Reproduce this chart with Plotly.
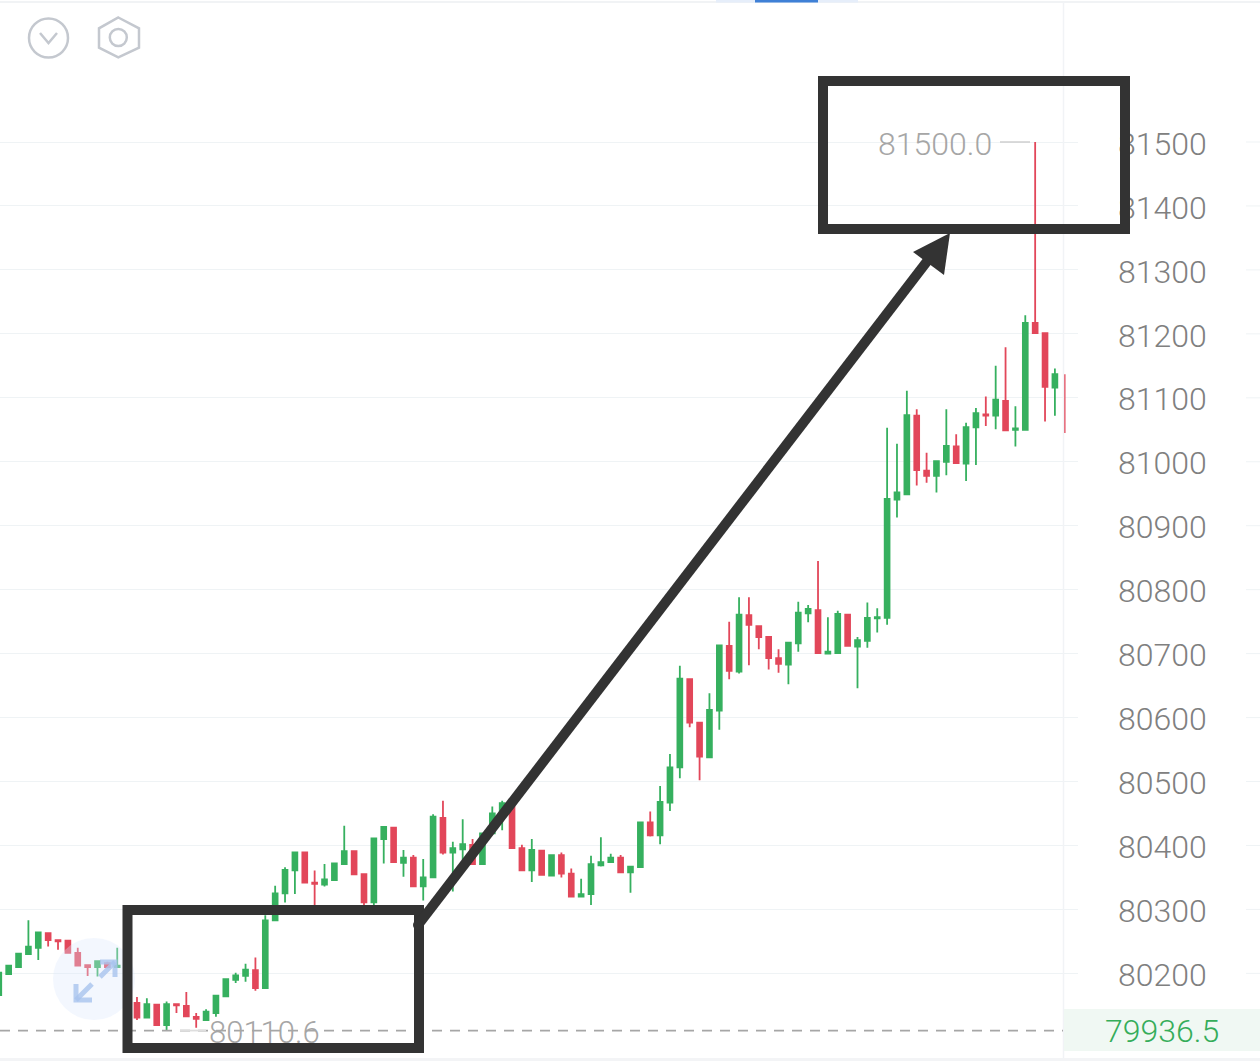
import plotly.graph_objects as go

opens = [80166,80199,80210,80230,80240,80263,80252,80251,80232,80213,80210,80216,80210,80205,80154,80131,80151,80119,80152,80149,80132,80127,80138,80164,80190,80196,80205,80177,80283,80325,80361,80389,80342,80339,80346,80371,80391,80355,80311,80410,80428,80373,80381,80336,80350,80443,80389,80394,80401,80371,80419,80448,80461,80396,80361,80392,80353,80385,80356,80320,80324,80369,80374,80381,80358,80366,80436,80416,80467,80522,80660,80592,80538,80611,80712,80672,80760,80743,80726,80693,80683,80716,80763,80768,80700,80701,80761,80711,80720,80755,80756,80941,80949,81072,80986,80978,81000,81024,80997,81054,81074,81072,81095,81050,81050,81217,81201,81116]
highs = [80201,80212,80231,80283,80264,80263,80252,80251,80240,80213,80219,80218,80240,80210,80163,80161,80151,80156,80152,80171,80138,80144,80165,80191,80201,80215,80225,80291,80337,80366,80389,80389,80361,80371,80372,80431,80391,80355,80411,80429,80428,80393,80385,80379,80449,80470,80406,80441,80410,80419,80461,80470,80461,80401,80410,80392,80385,80389,80364,80348,80384,80413,80387,80385,80367,80436,80453,80493,80543,80681,80660,80592,80638,80713,80750,80788,80788,80743,80726,80707,80717,80781,80776,80845,80757,80767,80761,80726,80780,80771,81053,81028,81111,81082,81014,81001,81082,81043,81061,81084,81102,81150,81179,81087,81229,81500,81201,81146]
lows = [80154,80199,80210,80230,80221,80242,80237,80232,80212,80196,80195,80208,80210,80150,80127,80131,80119,80111,80138,80133,80115,80127,80132,80164,80185,80187,80173,80177,80283,80311,80324,80342,80299,80336,80346,80371,80354,80307,80307,80372,80374,80351,80336,80314,80350,80386,80328,80377,80371,80371,80419,80424,80396,80361,80343,80354,80353,80350,80320,80320,80307,80367,80374,80358,80326,80366,80414,80402,80454,80505,80585,80502,80538,80581,80660,80669,80682,80707,80675,80670,80652,80703,80749,80701,80700,80701,80712,80646,80709,80733,80745,80913,80949,80963,80967,80952,80979,80998,80970,80995,81056,81051,81049,81024,81050,81201,81063,81072]
closes = [80201,80212,80231,80242,80264,80252,80250,80232,80212,80210,80219,80210,80212,80155,80131,80152,80119,80152,80150,80133,80129,80140,80165,80191,80197,80206,80177,80283,80325,80362,80389,80342,80340,80347,80372,80391,80355,80311,80411,80429,80374,80381,80336,80350,80445,80389,80396,80402,80371,80419,80450,80466,80396,80361,80393,80354,80385,80356,80320,80324,80371,80374,80381,80358,80367,80436,80416,80468,80522,80661,80592,80539,80612,80713,80673,80761,80745,80726,80693,80684,80717,80764,80770,80701,80703,80762,80712,80721,80756,80757,80942,80952,81073,80987,80978,81001,81025,80998,81054,81076,81072,81097,81049,81052,81217,81201,81117,81137]
bars = list(range(len(opens)))

# the newest bar is still forming: only its wick shows at the chart's edge
forming_bar = len(opens)
forming_high = 81137
forming_low = 81045

price_ticks = [80200,80300,80400,80500,80600,80700,80800,80900,81000,81100,81200,81300,81400,81500]
high_mark = 81500.0
low_mark = 80110.6
last_price = 79936.5

UP = "#36b05f"
DOWN = "#e2475a"
DARK = "#333333"
GRID = "#eff3f5"
W, H, PW = 1260, 1061, 1078
LABEL_NUDGE = 2.3


def px(x):
    return x / PW


def py(y):
    return 1 - y / H


fig = go.Figure(go.Candlestick(
    x=bars, open=opens, high=highs, low=lows, close=closes,
    increasing=dict(line=dict(color=UP, width=1.8), fillcolor=UP),
    decreasing=dict(line=dict(color=DOWN, width=1.8), fillcolor=DOWN),
    whiskerwidth=0, showlegend=False, hoverinfo="skip",
))
fig.add_trace(go.Scatter(x=[forming_bar, forming_bar], y=[forming_low, forming_high], mode="lines",
                         line=dict(color=DOWN, width=1.5), showlegend=False, hoverinfo="skip"))
fig.add_trace(go.Scatter(x=[forming_bar] * len(price_ticks), y=price_ticks, yaxis="y2", mode="none",
                         showlegend=False, hoverinfo="skip"))


def rect(x0, y0, x1, y1, **kw):
    return dict(type="rect", xref="paper", yref="paper", x0=px(x0), x1=px(x1), y0=py(y0), y1=py(y1), **kw)


def line(x0, y0, x1, y1, color, width, dash="solid", opacity=1):
    return dict(type="line", xref="paper", yref="paper", x0=px(x0), x1=px(x1), y0=py(y0), y1=py(y1),
                line=dict(color=color, width=width, dash=dash), opacity=opacity)


def poly(points, fill=None, color=None, width=0, close=True, opacity=1):
    d = "M" + " L".join(f"{px(a):.5f},{py(b):.5f}" for a, b in points) + (" Z" if close else "")
    return dict(type="path", xref="paper", yref="paper", path=d,
                fillcolor=fill if fill else "rgba(0,0,0,0)",
                line=dict(color=color if color else "rgba(0,0,0,0)", width=width), opacity=opacity)


def circle(cx, cy, r, fill=None, color=None, width=0, opacity=1):
    return dict(type="circle", xref="paper", yref="paper", x0=px(cx - r), x1=px(cx + r), y0=py(cy + r), y1=py(cy - r),
                fillcolor=fill if fill else "rgba(0,0,0,0)",
                line=dict(color=color if color else "rgba(0,0,0,0)", width=width), opacity=opacity)


shapes = []
shapes.append(line(0, 2, W, 2, "#f1f3f5", 2))
shapes.append(rect(0, 1058, W, 1061, fillcolor="#f3f4f6", line_width=0))
shapes.append(line(1063.5, 2, 1063.5, 1058, "#f1f3f6", 1.5))
shapes.append(rect(716, 0, 858, 2.5, fillcolor="#e6eefa", line_width=0))
shapes.append(rect(755, 0, 818, 2.5, fillcolor="#3f80d6", line_width=0))
for t in price_ticks:
    shapes.append(dict(type="line", xref="paper", yref="y", x0=px(1246), x1=px(W), y0=t, y1=t,
                       line=dict(color=GRID, width=1)))
shapes.append(dict(type="line", xref="paper", yref="y", x0=0, x1=px(1063), y0=low_mark, y1=low_mark,
                   line=dict(color="#a6a6a6", width=1.8, dash="10px,8px")))
shapes.append(dict(type="line", xref="paper", yref="y", x0=px(180), x1=px(206), y0=low_mark, y1=low_mark,
                   line=dict(color="#dedede", width=1.8)))
shapes.append(rect(1064, 1009, W, 1051, fillcolor="#f0f8f3", line_width=0))
shapes.append(dict(type="line", xref="paper", yref="y", x0=px(1000), x1=px(1030), y0=high_mark, y1=high_mark,
                   line=dict(color="#cfcfcf", width=1.5)))
shapes.append(circle(48.5, 38, 19.5, color="#c4c8cf", width=2.5))
shapes.append(poly([(40, 33), (48.5, 43), (57, 33)], color="#c4c8cf", width=2.5, close=False))
shapes.append(poly([(118.3, 17.5), (139, 28.3), (139, 47.7), (118.3, 57.3), (99, 47.7), (99, 28.3)],
                   color="#c4c8cf", width=2.5))
shapes.append(circle(118.3, 37.5, 8.5, color="#c4c8cf", width=2.5))
shapes.append(circle(94, 979, 41, fill="#dce8fb", opacity=0.35))
shapes.append(poly([(100, 962), (115, 962), (115, 977)], color="#a9c4ee", width=5, close=False, opacity=0.8))
shapes.append(line(115, 962, 100, 977, "#a9c4ee", 5, opacity=0.8))
shapes.append(poly([(76, 984), (76, 1000), (92, 1000)], color="#a9c4ee", width=5, close=False, opacity=0.8))
shapes.append(line(76, 1000, 92, 984, "#a9c4ee", 5, opacity=0.8))
shapes.append(rect(823, 81, 1125, 229, line=dict(color=DARK, width=10)))
shapes.append(rect(127.5, 910, 419, 1048, line=dict(color=DARK, width=10)))
shapes.append(line(418, 925, 935, 251, DARK, 10))
shapes.append(circle(418, 925, 5, fill=DARK))
shapes.append(poly([(950, 233), (913, 252), (944, 275)], fill=DARK))

font = "Roboto, Arial, sans-serif"
annotations = [
    dict(xref="paper", yref="paper", x=px(994), y=py(144), xanchor="right", yanchor="middle", showarrow=False,
         text=f"{high_mark:.1f}", font=dict(family=font, size=32, weight=300, color="#a6a6a6")),
    dict(xref="paper", yref="paper", x=px(207), y=py(1032), xanchor="left", yanchor="middle", showarrow=False,
         text=f"{low_mark:.1f}", font=dict(family=font, size=31, weight=300, color="#a6a6a6")),
    dict(xref="paper", yref="paper", x=px(1162), y=py(1031), xanchor="center", yanchor="middle", showarrow=False,
         text=f"{last_price:.1f}", font=dict(family=font, size=32, weight=300, color="#35ad5a")),
]

y_range = [80063, 81722.05]
fig.update_layout(
    width=W, height=H, margin=dict(l=0, r=W - PW, t=0, b=0),
    paper_bgcolor="white", plot_bgcolor="white", showlegend=False,
    xaxis=dict(range=[0.1216, 109.34], visible=False, rangeslider=dict(visible=False), fixedrange=True),
    yaxis=dict(range=y_range, tickvals=price_ticks, showticklabels=False,
               showgrid=True, gridcolor=GRID, gridwidth=1, zeroline=False, showline=False, ticks="", fixedrange=True),
    yaxis2=dict(range=[y_range[0] + LABEL_NUDGE, y_range[1] + LABEL_NUDGE], overlaying="y", side="right",
                tickvals=price_ticks, ticktext=[str(t) for t in price_ticks], showgrid=False, zeroline=False,
                showline=False, ticks="", ticklabelstandoff=39,
                tickfont=dict(family=font, size=32, weight=300, color="#808080"), fixedrange=True),
    shapes=shapes, annotations=annotations,
)
fig.write_html("out.html", config=dict(displayModeBar=False),
               post_script="document.body.style.margin='0';document.body.style.overflow='hidden';")
